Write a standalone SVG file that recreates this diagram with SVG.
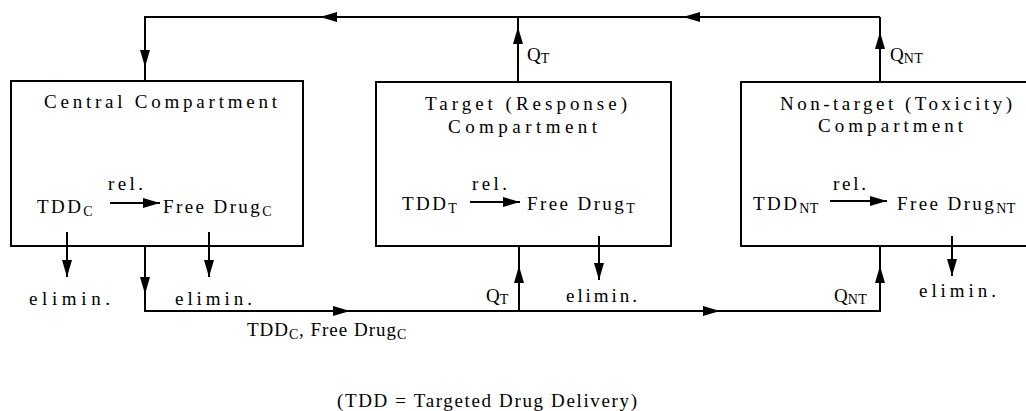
<svg xmlns="http://www.w3.org/2000/svg" xmlns:xlink="http://www.w3.org/1999/xlink" width="1026" height="411" viewBox="0 0 1026 411">
<style>
.box{fill:#fff;stroke:#000;stroke-width:2}
.ln{fill:none;stroke:#000;stroke-width:2}
text{font-family:"Liberation Serif","Times New Roman",serif;font-size:19px;fill:#000}
.ls{letter-spacing:2.4px}
.sub{font-size:14px;letter-spacing:0.5px}
</style>
<defs>
<path id="ah" d="M0,0 L-17,-5 L-17,5 Z"/>
</defs>
<rect width="1026" height="411" fill="#fff"/>
<g id="central">
<rect class="box" x="11" y="81" width="292" height="165"/>
<text x="44" y="108" textLength="233" lengthAdjust="spacing">Central Compartment</text>
<text class="ls" x="37" y="213">TDD<tspan class="sub" dy="3">C</tspan></text>
<text x="108" y="190" textLength="35" lengthAdjust="spacing">rel.</text>
<text class="ls" x="163" y="213">Free Drug<tspan class="sub" dy="3">C</tspan></text>
</g>
<g id="target">
<rect class="box" x="376" y="82" width="295" height="164"/>
<text x="425" y="110" textLength="202" lengthAdjust="spacing">Target (Response)</text>
<text x="448" y="133" textLength="149" lengthAdjust="spacing">Compartment</text>
<text class="ls" x="402" y="210">TDD<tspan class="sub" dy="3">T</tspan></text>
<text x="472" y="190" textLength="35" lengthAdjust="spacing">rel.</text>
<text class="ls" x="527" y="210">Free Drug<tspan class="sub" dy="3">T</tspan></text>
</g>
<g id="nontarget">
<rect class="box" x="741" y="82" width="300" height="164"/>
<text x="780" y="110" textLength="232" lengthAdjust="spacing">Non-target (Toxicity)</text>
<text x="818" y="132" textLength="145" lengthAdjust="spacing">Compartment</text>
<text class="ls" x="753" y="210">TDD<tspan class="sub" dy="3">NT</tspan></text>
<text x="833" y="190" textLength="33" lengthAdjust="spacing">rel.</text>
<text class="ls" x="897" y="210">Free Drug<tspan class="sub" dy="3">NT</tspan></text>
</g>
<g id="connectors">
<path class="ln" d="M880,17 H145 V81"/>
<path class="ln" d="M518,82 V17"/>
<path class="ln" d="M880,82 V17"/>
<path class="ln" d="M145,246 V311 H880 V246"/>
<path class="ln" d="M519,311 V246"/>
<path class="ln" d="M110,203 H160"/>
<path class="ln" d="M470,202 H520"/>
<path class="ln" d="M830,201 H887"/>
<path class="ln" d="M67,232 V277"/>
<path class="ln" d="M209,232 V277"/>
<path class="ln" d="M599,236 V280"/>
<path class="ln" d="M952,236 V276"/>
<use xlink:href="#ah" transform="translate(320,17) rotate(180)"/>
<use xlink:href="#ah" transform="translate(683,17) rotate(180)"/>
<use xlink:href="#ah" transform="translate(145,67) rotate(90)"/>
<use xlink:href="#ah" transform="translate(518,27) rotate(-90)"/>
<use xlink:href="#ah" transform="translate(880,32) rotate(-90)"/>
<use xlink:href="#ah" transform="translate(160,203)"/>
<use xlink:href="#ah" transform="translate(520,202)"/>
<use xlink:href="#ah" transform="translate(887,201)"/>
<use xlink:href="#ah" transform="translate(67,277) rotate(90)"/>
<use xlink:href="#ah" transform="translate(209,277) rotate(90)"/>
<use xlink:href="#ah" transform="translate(145,294) rotate(90)"/>
<use xlink:href="#ah" transform="translate(350,311)"/>
<use xlink:href="#ah" transform="translate(720,311)"/>
<use xlink:href="#ah" transform="translate(519,266) rotate(-90)"/>
<use xlink:href="#ah" transform="translate(599,280) rotate(90)"/>
<use xlink:href="#ah" transform="translate(880,266) rotate(-90)"/>
<use xlink:href="#ah" transform="translate(952,276) rotate(90)"/>
</g>
<g id="labels">
<text x="527" y="61">Q<tspan class="sub" dy="2">T</tspan></text>
<text x="890" y="61">Q<tspan class="sub" dy="2">NT</tspan></text>
<text x="29" y="305" textLength="81" lengthAdjust="spacing">elimin.</text>
<text x="175" y="305" textLength="77" lengthAdjust="spacing">elimin.</text>
<text x="486" y="302">Q<tspan class="sub" dy="2">T</tspan></text>
<text x="566" y="302" textLength="71" lengthAdjust="spacing">elimin.</text>
<text x="834" y="302">Q<tspan class="sub" dy="2">NT</tspan></text>
<text x="919" y="297" textLength="77" lengthAdjust="spacing">elimin.</text>
<text class="ls" x="247" y="336" style="letter-spacing:1px">TDD<tspan class="sub" dy="3">C</tspan><tspan dy="-3">, Free Drug</tspan><tspan class="sub" dy="3">C</tspan></text>
<text x="337" y="407" textLength="300" lengthAdjust="spacing">(TDD = Targeted Drug Delivery)</text>
</g>
</svg>
